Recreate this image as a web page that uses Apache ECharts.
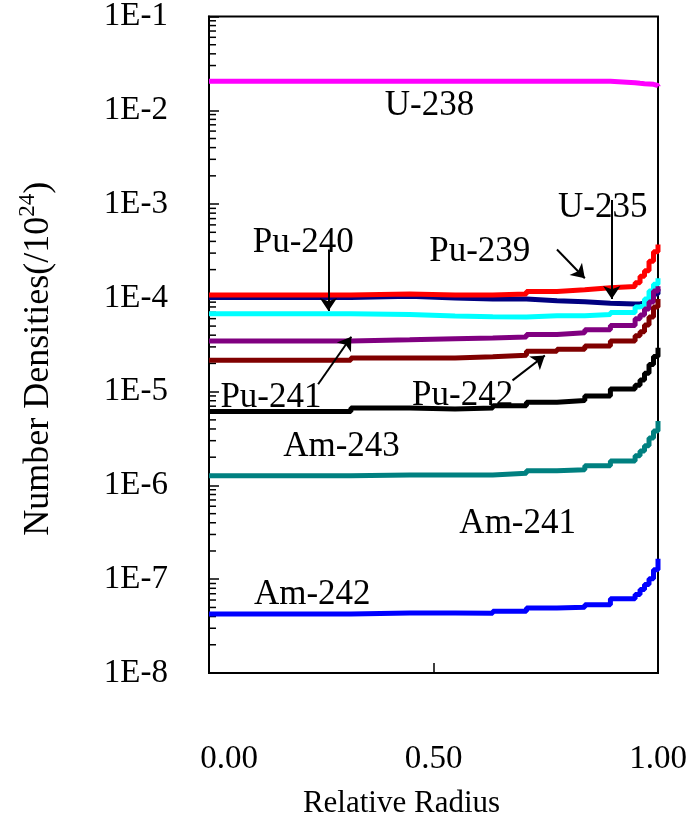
<!DOCTYPE html>
<html><head><meta charset="utf-8">
<script src="https://cdn.jsdelivr.net/npm/echarts@6/dist/echarts.min.js"></script>
<style>html,body{margin:0;padding:0;background:#fff}#c{width:694px;height:824px}</style>
</head><body><div id="c"></div>
<script>
// Ring boundaries (relative radius) where each value starts
const radii = [0, 0.316, 0.447, 0.548, 0.632, 0.707, 0.775, 0.837, 0.894, 0.949, 0.96, 0.97, 0.98, 0.99, 1.0];

const u235  = [1.01e-4, 1.04e-4, 9.95e-5, 9.7e-5, 9.7e-5, 9.3e-5, 9.1e-5, 8.75e-5, 8.6e-5, 8.6e-5, 8.8e-5, 9.2e-5, 1.0e-4, 1.1e-4, 1.24e-4];
const pu239 = [1.07e-4, 1.10e-4, 1.07e-4, 1.07e-4, 1.10e-4, 1.17e-4, 1.22e-4, 1.28e-4, 1.32e-4, 1.45e-4, 1.70e-4, 1.95e-4, 2.45e-4, 3.1e-4, 3.7e-4];
const pu240 = [6.75e-5, 6.65e-5, 6.4e-5, 6.3e-5, 6.25e-5, 6.45e-5, 6.45e-5, 6.65e-5, 7.0e-5, 8.0e-5, 8.3e-5, 9.7e-5, 1.18e-4, 1.40e-4, 1.62e-4];
const pu241 = [3.47e-5, 3.58e-5, 3.67e-5, 3.73e-5, 3.82e-5, 4.07e-5, 4.25e-5, 4.57e-5, 5.07e-5, 5.97e-5, 6.58e-5, 7.62e-5, 9.03e-5, 1.18e-4, 1.33e-4];
const pu242 = [2.16e-5, 2.29e-5, 2.29e-5, 2.35e-5, 2.44e-5, 2.69e-5, 2.83e-5, 3.07e-5, 3.47e-5, 3.95e-5, 4.35e-5, 5.15e-5, 6.26e-5, 8.0e-5, 9.71e-5];
const am243 = [6.16e-6, 6.68e-6, 6.52e-6, 6.68e-6, 7.06e-6, 7.73e-6, 8.05e-6, 9.01e-6, 1.07e-5, 1.17e-5, 1.33e-5, 1.57e-5, 1.95e-5, 2.37e-5, 2.94e-5];
const am241 = [1.27e-6, 1.29e-6, 1.29e-6, 1.29e-6, 1.35e-6, 1.43e-6, 1.47e-6, 1.62e-6, 1.82e-6, 2.07e-6, 2.33e-6, 2.65e-6, 3.21e-6, 3.81e-6, 4.86e-6];
const am242 = [4.26e-8, 4.36e-8, 4.36e-8, 4.33e-8, 4.55e-8, 4.92e-8, 5.01e-8, 5.35e-8, 6.19e-8, 6.88e-8, 7.76e-8, 8.77e-8, 1.01e-7, 1.26e-7, 1.65e-7];
const u238  = [0.0204, 0.0204, 0.0204, 0.0204, 0.0204, 0.0204, 0.0204, 0.0204, 0.0197, 0.0194, 0.0192, 0.0191, 0.0189, 0.0184, 0.0180];

const yTickLabels = ['1E-8', '1E-7', '1E-6', '1E-5', '1E-4', '1E-3', '1E-2', '1E-1'];
const xTickLabels = ['0.00', '0.50', '1.00'];

// Annotation labels (data coordinates)
const labelNames = ['U-238', 'U-235', 'Pu-239', 'Pu-240', 'Pu-241', 'Pu-242', 'Am-243', 'Am-241', 'Am-242'];
const labelR = [0.491, 0.877, 0.603, 0.210, 0.138, 0.565, 0.295, 0.6875, 0.230];
const labelV = [1.12e-2, 9.12e-4, 3.13e-4, 3.89e-4, 8.51e-6, 8.93e-6, 2.58e-6, 3.87e-7, 6.87e-8];

// Arrows: [from, to] in data coordinates
const arrows = [
  [[0.897, 1.107e-3], [0.897, 9.7e-5]],
  [[0.775, 3.28e-4], [0.837, 1.62e-4]],
  [[0.266, 3.28e-4], [0.266, 7.25e-5]],
  [[0.243, 1.20e-5], [0.317, 3.85e-5]],
  [[0.676, 1.32e-5], [0.748, 2.43e-5]]
];

const FONT = '"Liberation Serif", "DejaVu Serif", serif';

// minor tick positions for the log axis (2..9 in each decade)
const minorTickValues = [];
for (let e = -8; e <= -2; e++) {
  for (let k = 2; k <= 9; k++) minorTickValues.push(k * Math.pow(10, e));
}

function pairs(vals) { return radii.map((r, i) => [r, vals[i]]); }

const lineDefs = [
  ['U-235', u235, '#000080'],
  ['Pu-239', pu239, '#ff0000'],
  ['Pu-240', pu240, '#00ffff'],
  ['Pu-241', pu241, '#800080'],
  ['Pu-242', pu242, '#800000'],
  ['Am-243', am243, '#000000'],
  ['Am-241', am241, '#008080'],
  ['Am-242', am242, '#0000ff'],
  ['U-238', u238, '#ff00ff']
];

const series = [{
  type: 'custom',
  silent: true,
  z: 1,
  data: minorTickValues.map(v => [0, v]),
  renderItem: function (params, api) {
    const p = api.coord([api.value(0), api.value(1)]);
    return { type: 'line', shape: { x1: p[0], y1: p[1], x2: p[0] + 7, y2: p[1] }, style: { stroke: '#000', lineWidth: 1.5 } };
  }
}];

lineDefs.forEach(d => {
  series.push({
    name: d[0], type: 'line', step: 'end', showSymbol: false, symbol: 'none',
    data: pairs(d[1]), lineStyle: { color: d[2], width: 5 }, itemStyle: { color: d[2] },
    silent: true, z: 3
  });
});

series.push({
  type: 'scatter', silent: true, z: 10, symbolSize: 0,
  itemStyle: { opacity: 1, color: '#000' },
  data: labelNames.map((n, i) => ({ name: n, value: [labelR[i], labelV[i]] })),
  label: { show: true, position: 'inside', formatter: '{b}', fontSize: 35, color: '#000', opacity: 1, textBorderWidth: 0, fontFamily: FONT },
  markLine: {
    silent: true, symbol: ['none', 'arrow'], symbolSize: 13, animation: false,
    lineStyle: { color: '#000', width: 2, type: 'solid', opacity: 1 },
    label: { show: false },
    data: arrows.map(a => [{ coord: a[0] }, { coord: a[1] }])
  }
});

const chart = echarts.init(document.getElementById('c'));
chart.setOption({
  animation: false,
  backgroundColor: '#fff',
  grid: { left: 209, right: 36, top: 15, bottom: 147, show: true, borderColor: '#000', borderWidth: 2, backgroundColor: 'transparent' },
  xAxis: {
    type: 'value', min: 0, max: 1, interval: 0.5,
    name: 'Relative Radius', nameLocation: 'middle', nameGap: 115,
    nameTextStyle: { fontSize: 31, fontFamily: FONT, color: '#000', padding: [0, 64, 0, 0] },
    axisLine: { show: true, lineStyle: { color: '#000', width: 2 } },
    axisTick: { show: true, inside: true, length: 10, lineStyle: { color: '#000', width: 1.5 } },
    splitLine: { show: false },
    axisLabel: {
      margin: 70, fontSize: 33, fontFamily: FONT, color: '#000',
      formatter: function (v) {
        const s = xTickLabels[Math.round(v / 0.5)];
        return v === 0 ? '{f|' + s + '}' : s;
      },
      rich: { f: { fontSize: 33, fontFamily: FONT, color: '#000', padding: [0, 0, 0, 40] } }
    }
  },
  yAxis: {
    type: 'log', logBase: 10, min: 1e-8, max: 1e-1,
    name: '{a|Number Densities(/10}{b|24}{a|)}', nameLocation: 'middle', nameGap: 148,
    nameTextStyle: {
      color: '#000', padding: [0, 28, 0, 0],
      rich: {
        a: { fontSize: 36, fontFamily: FONT, color: '#000' },
        b: { fontSize: 23, fontFamily: FONT, color: '#000', padding: [0, 0, 22, 0] }
      }
    },
    axisLine: { show: true, lineStyle: { color: '#000', width: 2 } },
    axisTick: { show: true, inside: true, length: 10, lineStyle: { color: '#000', width: 1.5 } },
    minorTick: { show: false },
    splitLine: { show: false },
    axisLabel: {
      margin: 41, fontSize: 33, fontFamily: FONT, color: '#000',
      formatter: function (v) { return yTickLabels[Math.round(Math.log10(v)) + 8]; }
    }
  },
  series: series
});
</script></body></html>
